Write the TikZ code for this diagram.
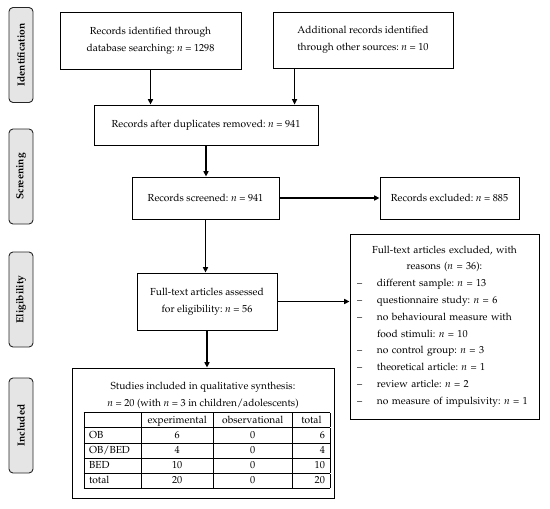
\documentclass[tikz,border=0pt]{standalone}
\usepackage[T1]{fontenc}
\usepackage{mathpazo}
\usepackage{array}
\usetikzlibrary{arrows.meta}
\newcommand{\exitem}[1]{\makebox[22pt][l]{\hspace{2pt}--}#1}
\frenchspacing
\begin{document}
\begin{tikzpicture}[x=1pt,y=-1pt,
  every node/.append style={font=\fontsize{10.2}{16.8}\selectfont\frenchspacing},
  box/.style={draw=black, line width=0.8pt, fill=white, align=center, inner sep=0pt},
  tab/.style={draw=black!85, line width=0.9pt, fill=black!10, rounded corners=4pt,
    minimum width=95, minimum height=24, inner sep=0pt, rotate=90,
    font=\fontsize{10.2}{12}\selectfont\bfseries},
  arr/.style={line width=1.5pt, -{Triangle[length=5.5pt,width=5pt]}}
]
\useasboundingbox (0,0) rectangle (550,509);

% phase tabs
\node[tab] (t1) at (21,55) {Identification};
\node[tab] (t2) at (21,176.5) {Screening};
\node[tab] (t3) at (21,299.5) {Eligibility};
\node[tab] (t4) at (21,425.5) {Included};

% boxes
\node[box, minimum width=181, minimum height=57] (b1) at (150.5,40.5)
  {Records identified through\\database searching: \textit{n} = 1298};
\node[box, minimum width=180, minimum height=56] (b2) at (363,40)
  {Additional records identified\\through other sources: \textit{n} = 10};
\node[box, minimum width=224, minimum height=40] (b3) at (206,125)
  {Records after duplicates removed: \textit{n} = 941};
\node[box, minimum width=147, minimum height=42] (b4) at (205.5,198)
  {Records screened: \textit{n} = 941};
\node[box, minimum width=139, minimum height=42] (b5) at (449.5,198)
  {Records excluded: \textit{n} = 885};
\node[box, minimum width=140, minimum height=57] (b6) at (207,301.5)
  {Full-text articles assessed\\for eligibility: \textit{n} = 56};
\node[box, minimum width=189, minimum height=185, text width=179, align=left] (b7) at (444.5,326.5)
  {\makebox[179pt][c]{Full-text articles excluded, with}\\
   \makebox[179pt][c]{reasons (\textit{n} = 36):}\\
   \exitem{different sample: \textit{n} = 13}\\
   \exitem{questionnaire study: \textit{n} = 6}\\
   \exitem{no behavioural measure with}\\
   \hspace*{22pt}food stimuli: \textit{n} = 10\\
   \exitem{no control group: \textit{n} = 3}\\
   \exitem{theoretical article: \textit{n} = 1}\\
   \exitem{review article: \textit{n} = 2}\\
   \exitem{no measure of impulsivity: \textit{n} = 1}};
\node[box, minimum width=262, minimum height=130] (b8) at (203,433) {};
\node[align=center, inner sep=0pt] (b8t) at (203,395.5)
  {Studies included in qualitative synthesis:\\\textit{n} = 20 (with \textit{n} = 3 in children/adolescents)};
\node[inner sep=0pt, anchor=north] (tbl) at (207,412) {%
  \setlength{\tabcolsep}{5pt}\setlength{\arrayrulewidth}{0.6pt}%
  \renewcommand{\arraystretch}{1.2167}\fontsize{10.2}{12}\selectfont
  \begin{tabular}{|p{47pt}|>{\centering\arraybackslash}p{61pt}|>{\centering\arraybackslash}p{69pt}|>{\raggedleft\arraybackslash}p{27pt}|}
  \hline
   & experimental & observational & \multicolumn{1}{>{\centering\arraybackslash}p{27pt}|}{total}\\ \hline
  OB & 6 & 0 & 6\hspace*{4pt}\\ \hline
  OB/BED & 4 & 0 & 4\hspace*{4pt}\\ \hline
  BED & 10 & 0 & 10\hspace*{4pt}\\ \hline
  total & 20 & 0 & 20\hspace*{4pt}\\ \hline
  \end{tabular}};

% connectors
\draw[arr] (b1.south) -- (b1.south |- b3.north);
\draw[arr] ([xshift=22pt]b2.south west) -- ([xshift=22pt]b2.south west |- b3.north);
\draw[arr] (b3.south) -- (b3.south |- b4.north);
\draw[arr] (b4.east) -- (b5.west);
\draw[arr] (b4.south) -- (b4.south |- b6.north);
\draw[arr] (b6.east) -- (b6.east -| b7.west);
\draw[arr] (b6.south) -- (b6.south |- b8.north);
\end{tikzpicture}
\end{document}
